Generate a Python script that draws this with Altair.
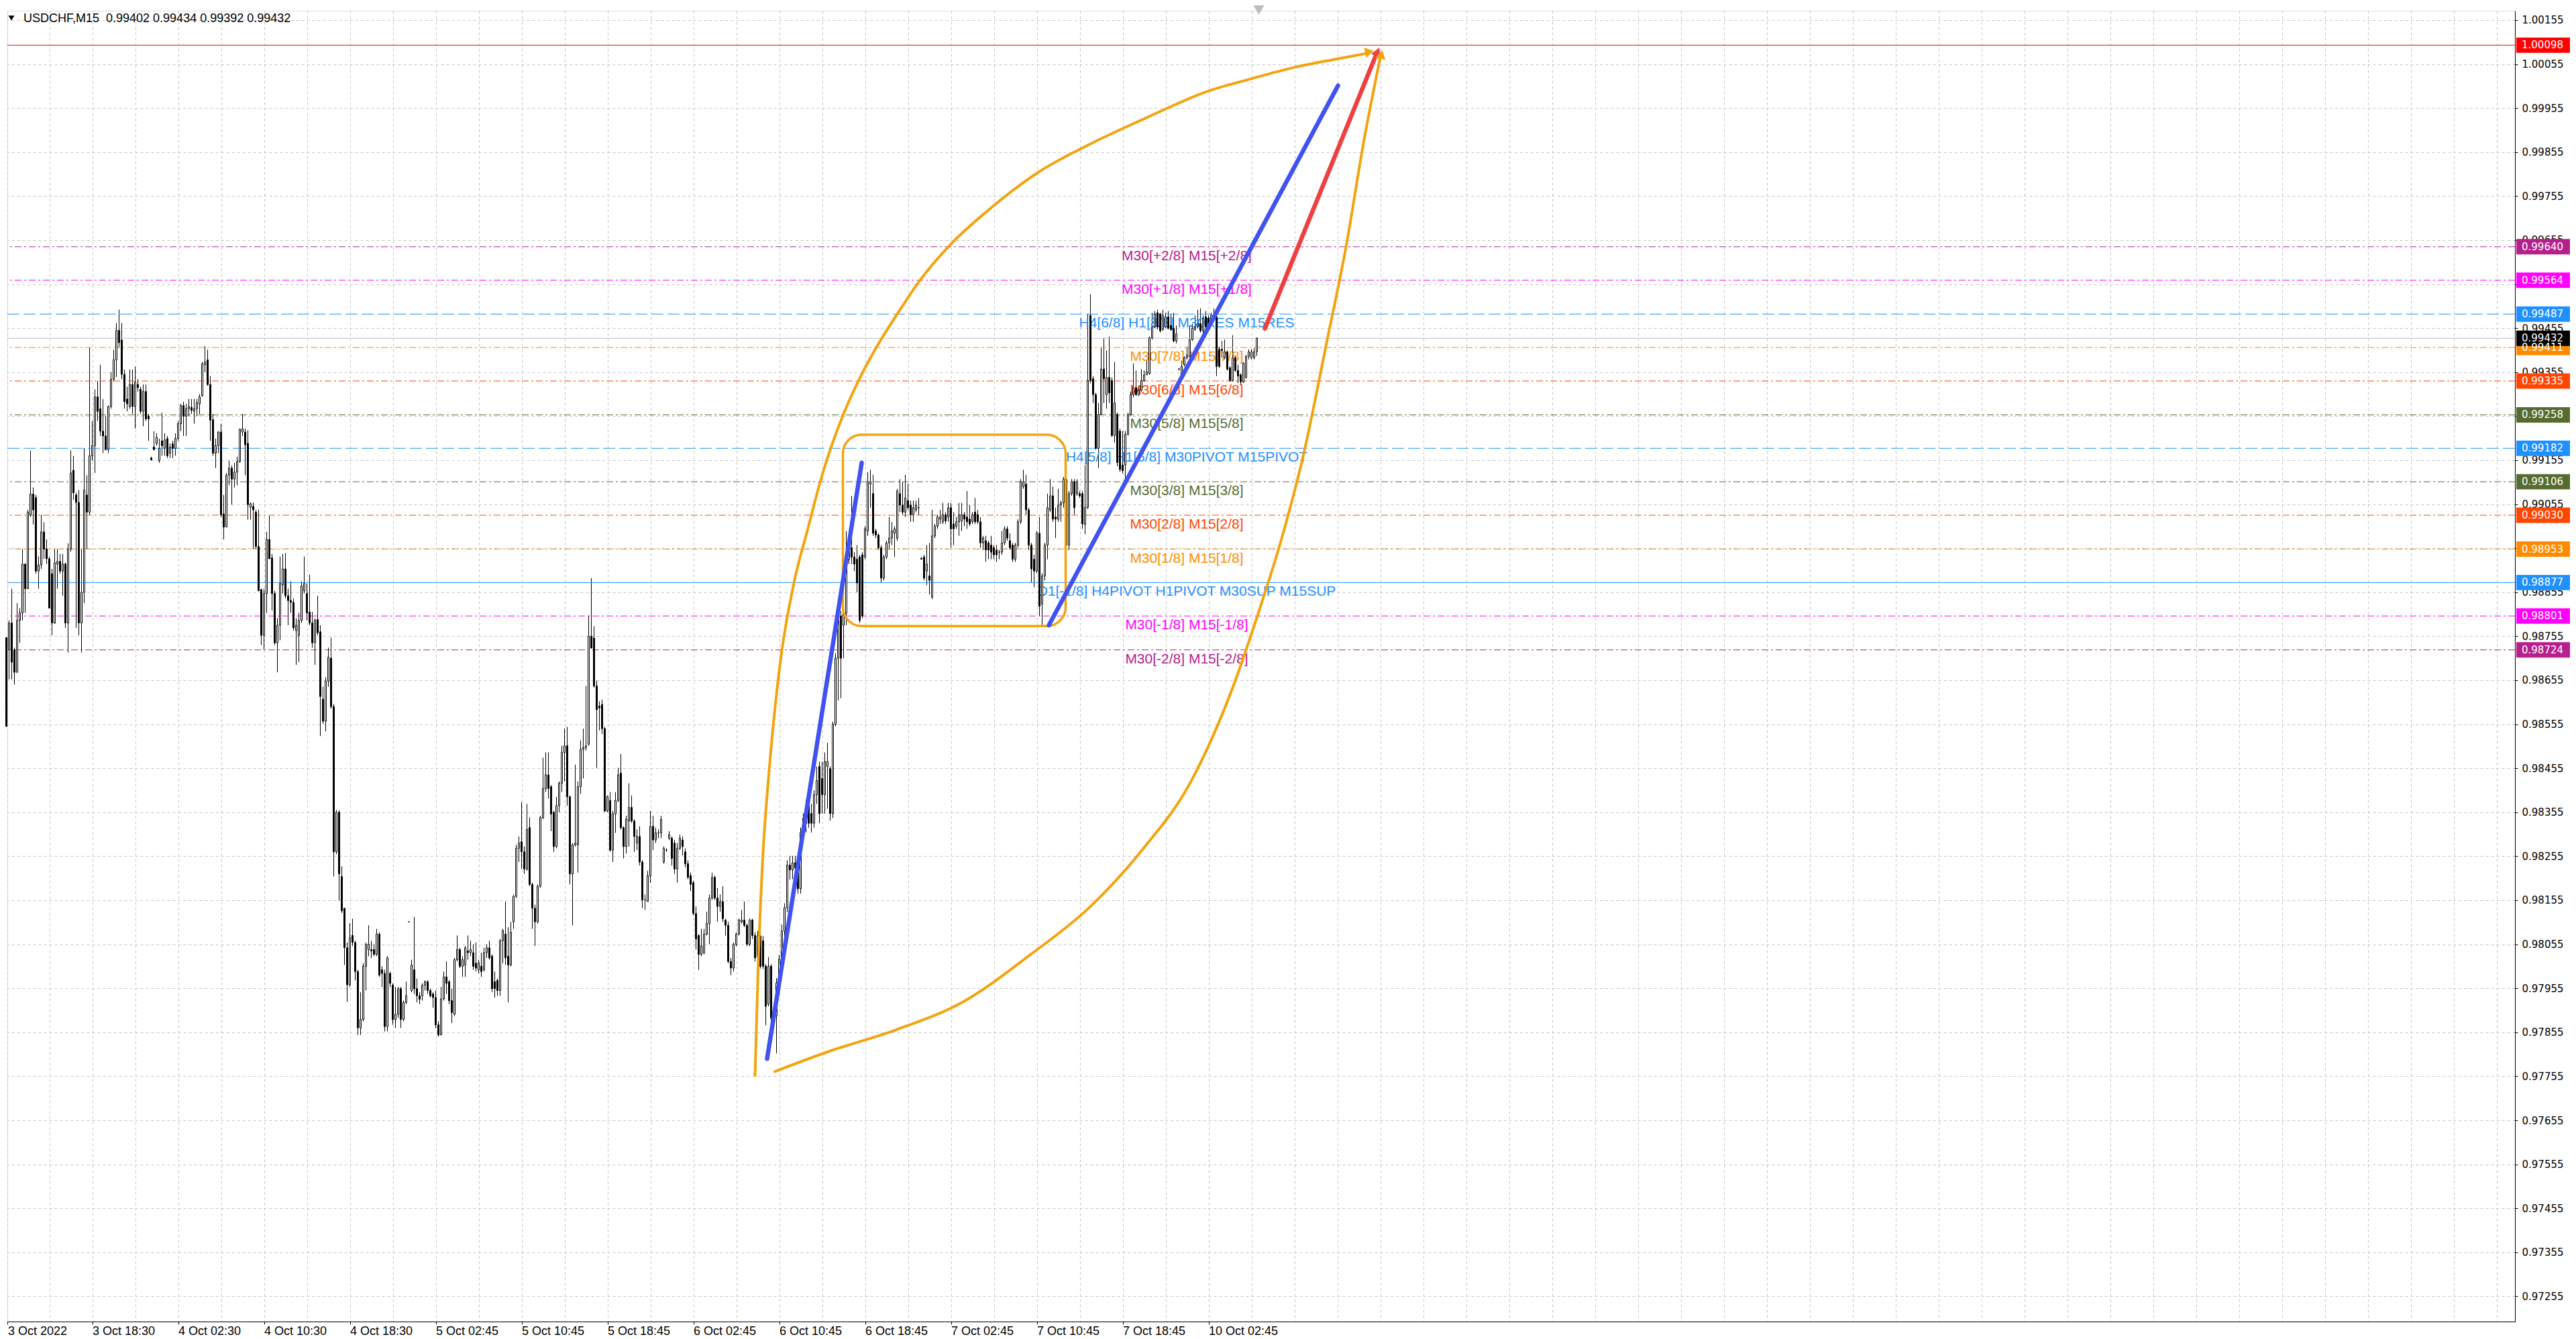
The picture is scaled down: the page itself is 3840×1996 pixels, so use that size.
import json
import altair as alt
import pandas as pd

# ---------------- candle data (prices in points, 1 point = 0.00001) ----------------
opens_pts = [
98752,98724,98785,98724,98673,98791,98808,98919,98863,99031,
99078,99070,98903,98917,98992,98953,98931,98897,98785,98919,
98925,98903,98919,98785,98953,99132,99076,99059,98785,98855,
99076,99037,99165,99188,99299,99272,99221,99210,99179,99277,
99339,99383,99450,99428,99350,99294,99277,99327,99277,99327,
99316,99266,99311,99255,99160,99185,99193,99154,99199,99182,
99204,99171,99192,99182,99204,99238,99279,99255,99272,99275,
99266,99272,99283,99302,99372,99383,99327,99247,99171,99188,
99219,99033,99003,99121,99137,99112,99128,99152,99219,99219,
99193,99048,99050,99037,98959,98861,98757,98852,98975,98933,
98852,98740,98780,98872,98908,98847,98836,98832,98768,98757,
98791,98858,98852,98810,98785,98740,98793,98765,98612,98562,
98653,98705,98595,98265,98355,98209,98137,98047,97963,98075,
98059,97993,97865,97884,98005,98043,98043,98043,98032,98078,
97997,97989,97868,97989,97962,97884,97896,97954,97884,97923,
98106,97950,97997,97954,97938,97938,97962,97970,97950,97942,
97934,97872,97849,97931,97981,97970,97927,97896,98020,98043,
98005,98008,98040,98036,98036,98012,97997,98005,97997,98036,
98047,98028,97970,97973,97950,98063,98078,98028,98008,98106,
98164,98273,98288,98265,98226,98320,98191,98137,98106,98187,
98343,98409,98440,98413,98355,98277,98370,98421,98491,98506,
98390,98215,98281,98281,98413,98498,98502,98510,98755,98751,
98642,98596,98600,98545,98358,98382,98269,98351,98382,98444,
98320,98277,98335,98366,98335,98285,98300,98242,98156,98152,
98211,98323,98292,98308,98308,98242,98269,98296,98296,98285,
98226,98273,98292,98265,98238,98211,98195,98125,98075,98032,
98036,98078,98102,98160,98207,98160,98141,98152,98110,98098,
98016,98001,98055,98078,98106,98110,98098,98055,98110,98075,
98026,98074,98063,98005,97919,98005,97887,97893,97967,98021,
98085,98138,98235,98224,98240,98228,98181,98309,98330,98370,
98352,98330,98395,98459,98432,98395,98459,98454,98352,98555,
98705,98801,98780,98807,98930,98956,98935,98930,98935,98940,
98935,98994,99101,99079,98994,98985,98956,98887,98935,98967,
98978,98989,98978,99079,99053,99037,99063,99053,99031,99042,
99047,98932,98935,98903,98892,98844,98983,99005,99021,99015,
99031,99026,99047,99010,99005,99015,99017,99031,99026,99021,
99015,99037,99031,99015,98967,98972,98967,98962,98956,98951,
98946,98946,98967,98999,98972,98962,98930,98962,99015,99095,
99101,99042,98962,98930,98903,98989,98828,98892,98962,99042,
99074,99026,99021,99053,99058,99112,98962,99079,99106,99079,
99079,99079,99009,99048,99484,99340,99304,99182,99259,99362,
99304,99343,99336,99211,99259,99221,99144,99144,99214,99259,
99304,99320,99304,99314,99336,99349,99352,99433,99458,99490,
99487,99452,99458,99481,99461,99455,99426,99362,99349,99372,
99388,99391,99429,99452,99458,99465,99449,99481,99478,99471,
99484,99481,99407,99407,99388,99401,99365,99336,99388,99359,
99349,99333,99343,99391,99388,99388,99402]

highs_pts = [
98752,98791,98863,98729,98830,98819,98953,98919,99042,99177,
99093,99076,98936,99031,99014,98975,98936,98908,98953,98953,
98942,98942,98922,98966,99177,99165,99081,99087,98953,99182,
99121,99411,99244,99316,99335,99372,99294,99255,99279,99355,
99406,99467,99497,99467,99361,99322,99361,99361,99367,99339,
99322,99327,99327,99260,99163,99221,99216,99204,99263,99216,
99210,99193,99199,99216,99244,99283,99288,99283,99294,99294,
99294,99294,99305,99378,99414,99406,99346,99260,99204,99221,
99238,99076,99126,99154,99143,99149,99163,99227,99260,99227,
99223,99059,99059,99042,99042,98863,98863,98992,99029,98942,
98858,98796,98936,98942,98944,98863,98880,98841,98796,98808,
98880,98936,98875,98895,98810,98796,98847,98780,98640,98662,
98729,98752,98601,98360,98360,98232,98137,98059,98103,98113,
98063,97997,97946,98012,98059,98098,98063,98055,98090,98082,
98005,97997,98028,97993,97966,97958,97958,97958,97927,97970,
98107,98020,98117,97977,97946,97966,97973,97973,97954,97946,
97950,97880,97958,97993,98016,97973,97954,98024,98075,98047,
98028,98051,98075,98063,98055,98059,98020,98036,98047,98055,
98063,98032,97993,97977,98067,98090,98152,98094,98106,98168,
98281,98300,98378,98277,98374,98343,98195,98145,98191,98347,
98479,98491,98491,98417,98358,98390,98425,98506,98545,98549,
98393,98285,98463,98425,98518,98545,98642,98802,98887,98778,
98654,98607,98611,98549,98393,98401,98358,98401,98456,98487,
98323,98347,98421,98393,98339,98316,98323,98246,98168,98222,
98358,98347,98320,98316,98347,98277,98273,98312,98300,98292,
98285,98304,98300,98273,98246,98218,98199,98141,98078,98090,
98090,98129,98168,98218,98211,98183,98168,98187,98113,98106,
98024,98059,98082,98113,98133,98152,98102,98113,98113,98082,
98085,98112,98074,98010,98026,98010,97914,97978,98031,98100,
98148,98246,98256,98256,98256,98240,98320,98352,98384,98384,
98374,98405,98459,98470,98470,98491,98513,98459,98561,98716,
98801,98812,98833,98994,98967,99074,98946,98962,98940,98946,
99005,99128,99133,99122,98999,98989,98962,98940,98972,99026,
99015,99005,99090,99112,99106,99122,99101,99063,99063,99063,
99069,98935,98940,98962,98967,99042,99010,99031,99042,99058,
99037,99058,99058,99037,99026,99058,99058,99037,99085,99053,
99037,99069,99042,99026,98983,98983,98972,98983,98962,98962,
98951,98994,99005,99005,98989,98967,98967,99021,99112,99133,
99122,99047,98967,98940,98994,99026,98898,98967,99079,99112,
99095,99047,99090,99063,99117,99117,99085,99112,99112,99112,
99085,99085,99144,99487,99532,99346,99308,99285,99410,99433,
99404,99436,99343,99378,99263,99227,99221,99221,99263,99311,
99375,99359,99324,99362,99359,99381,99436,99490,99494,99497,
99490,99497,99490,99494,99487,99490,99461,99365,99381,99391,
99413,99461,99465,99484,99497,99500,99484,99494,99484,99490,
99500,99484,99413,99426,99429,99404,99368,99439,99391,99372,
99352,99378,99394,99407,99407,99410,99434]

lows_pts = [
98550,98657,98657,98645,98673,98740,98791,98808,98863,99026,
99009,98897,98863,98908,98931,98919,98819,98757,98783,98863,
98897,98847,98774,98718,98947,99065,98774,98757,98718,98830,
98953,99031,99154,99126,99244,99210,99171,99177,99171,99272,
99333,99344,99411,99339,99272,99266,99272,99260,99227,99311,
99260,99232,99244,99199,99154,99177,99188,99149,99165,99165,
99160,99160,99160,99165,99199,99221,99210,99210,99255,99260,
99238,99255,99260,99299,99355,99324,99199,99165,99137,99171,
99026,98975,99003,99098,99054,99093,99098,99149,99210,99121,
99020,99020,98953,98953,98858,98735,98724,98808,98931,98813,
98735,98673,98746,98852,98841,98780,98808,98768,98690,98696,
98785,98852,98791,98780,98729,98690,98757,98528,98556,98539,
98640,98590,98209,98260,98154,98126,98008,97924,97958,98051,
97973,97849,97849,97880,97950,98028,98024,98028,98028,97981,
97958,97857,97857,97958,97872,97865,97888,97865,97880,97919,
98105,97946,97942,97923,97919,97927,97950,97942,97934,97911,
97865,97845,97849,97927,97942,97919,97876,97892,98016,98001,
97981,97981,98020,98028,97997,97993,97989,97981,97993,98024,
98020,97946,97934,97938,97938,98012,98008,97923,98005,98090,
98160,98242,98226,98215,98222,98187,98090,98051,98102,98183,
98339,98401,98386,98312,98265,98273,98355,98401,98425,98370,
98191,98098,98277,98218,98397,98432,98495,98506,98728,98638,
98456,98541,98533,98355,98355,98265,98242,98308,98378,98316,
98250,98261,98277,98331,98265,98269,98234,98137,98133,98152,
98195,98269,98285,98296,98296,98238,98265,98292,98234,98215,
98195,98269,98257,98230,98203,98176,98121,98043,97997,98028,
98032,98075,98055,98156,98156,98106,98129,98106,98075,98012,
97985,97993,98051,98075,98102,98094,98051,98051,98067,98016,
98015,98000,97999,97871,97914,97871,97866,97807,97940,98010,
98064,98128,98202,98203,98202,98170,98170,98299,98309,98320,
98309,98320,98374,98330,98352,98352,98363,98336,98342,98550,
98609,98614,98705,98780,98919,98919,98903,98855,98785,98796,
98930,98983,99047,98983,98978,98951,98876,98882,98930,98951,
98962,98935,98972,99037,99031,99026,99042,99015,99015,99037,
99031,98930,98882,98871,98850,98839,98978,98999,99010,99010,
99010,99015,98956,98962,98999,98983,98994,99005,98999,99005,
99010,99010,99010,98956,98951,98924,98930,98930,98930,98924,
98930,98940,98962,98972,98951,98924,98924,98956,99010,99090,
99031,98951,98876,98866,98898,98801,98780,98882,98930,99037,
99015,98978,99015,99015,99047,98956,98951,99074,99031,99074,
99069,98999,98987,99044,99330,99285,99179,99137,99259,99285,
99272,99285,99208,99195,99141,99128,99125,99105,99211,99256,
99298,99301,99301,99311,99333,99349,99349,99429,99455,99452,
99445,99449,99455,99452,99449,99423,99420,99359,99346,99368,
99384,99388,99426,99449,99455,99445,99442,99455,99458,99468,
99471,99346,99365,99388,99384,99359,99333,99333,99356,99330,
99327,99330,99340,99384,99384,99384,99392]

closes_pts = [
98550,98785,98696,98673,98791,98808,98919,98863,99037,99078,
99042,98903,98917,98992,98953,98931,98819,98785,98922,98925,
98903,98919,98785,98953,99126,99081,99059,98785,98855,99087,
99037,99165,99188,99299,99266,99221,99210,99179,99277,99339,
99383,99450,99422,99350,99288,99283,99327,99277,99333,99320,
99266,99311,99249,99249,99156,99179,99207,99182,99188,99201,
99165,99185,99182,99204,99238,99279,99255,99272,99277,99268,
99272,99286,99299,99374,99378,99327,99246,99171,99188,99219,
99031,99003,99121,99137,99112,99128,99152,99225,99226,99190,
99054,99056,99042,98959,98858,98757,98852,98975,98931,98852,
98740,98780,98875,98908,98847,98836,98832,98774,98780,98791,
98869,98875,98808,98785,98740,98791,98763,98618,98562,98653,
98707,98595,98265,98355,98215,98131,98047,97963,98070,98059,
97993,97865,97884,98005,98055,98055,98040,98032,98078,97985,
97989,97868,98024,97966,97884,97896,97954,97884,97923,97938,
98106,98008,97954,97938,97930,97962,97970,97950,97938,97934,
97872,97849,97931,97981,97966,97927,97900,98020,98043,98005,
98020,98047,98036,98043,98005,98001,98012,97993,98036,98047,
98024,97954,97954,97950,98063,98086,98024,98008,98082,98164,
98273,98285,98265,98226,98316,98191,98137,98106,98187,98343,
98409,98440,98409,98351,98277,98370,98421,98491,98506,98390,
98215,98281,98285,98413,98498,98502,98506,98755,98728,98642,
98588,98592,98545,98358,98390,98269,98351,98382,98440,98320,
98277,98339,98366,98335,98300,98300,98242,98156,98156,98211,
98323,98292,98308,98308,98339,98273,98269,98304,98250,98226,
98273,98296,98277,98238,98207,98191,98125,98067,98032,98051,
98078,98102,98160,98207,98160,98141,98152,98113,98098,98016,
98001,98055,98078,98110,98110,98098,98055,98110,98075,98024,
98074,98005,98005,97914,98005,97887,97908,97967,98021,98085,
98138,98235,98224,98240,98228,98181,98309,98342,98370,98330,
98330,98395,98427,98352,98395,98470,98470,98352,98555,98705,
98791,98705,98807,98930,98951,98935,98919,98876,98791,98801,
98999,99106,99106,98989,98985,98956,98887,98935,98967,98978,
98994,98999,99085,99053,99037,99069,99047,99031,99047,99053,
99047,98930,98887,98919,98882,98983,99005,99026,99026,99031,
99017,99047,98999,98999,99015,99031,99031,99021,99015,99010,
99031,99015,99015,98967,98978,98951,98951,98946,98940,98940,
98946,98967,98999,98978,98956,98930,98962,99015,99106,99106,
99042,98962,98908,98903,98989,98823,98892,98962,99047,99074,
99021,99021,99053,99058,99112,98962,99079,99106,99047,99106,
99074,99010,99048,99336,99336,99304,99182,99259,99362,99340,
99343,99308,99211,99285,99150,99134,99131,99214,99259,99304,
99320,99304,99314,99336,99349,99356,99433,99458,99487,99458,
99449,99484,99481,99455,99452,99426,99442,99362,99368,99388,
99394,99429,99455,99458,99465,99449,99478,99458,99465,99484,
99478,99368,99368,99404,99401,99362,99336,99388,99359,99346,
99333,99375,99391,99401,99401,99401,99432]

# ---------------- axes ----------------
time_labels = ["3 Oct 2022", "3 Oct 18:30", "4 Oct 02:30", "4 Oct 10:30", "4 Oct 18:30",
               "5 Oct 02:45", "5 Oct 10:45", "5 Oct 18:45", "6 Oct 02:45", "6 Oct 10:45",
               "6 Oct 18:45", "7 Oct 02:45", "7 Oct 10:45", "7 Oct 18:45", "10 Oct 02:45"]
time_label_bars = [0, 32, 64, 96, 128, 160, 192, 224, 256, 288, 320, 352, 384, 416, 448]
grid_bars = [0.5] + list(range(16, 929, 16))
price_ticks = [0.97255, 0.97355, 0.97455, 0.97555, 0.97655, 0.97755, 0.97855, 0.97955,
               0.98055, 0.98155, 0.98255, 0.98355, 0.98455, 0.98555, 0.98655, 0.98755,
               0.98855, 0.98955, 0.99055, 0.99155, 0.99255, 0.99355, 0.99455, 0.99555,
               0.99655, 0.99755, 0.99855, 0.99955, 1.00055, 1.00155]

# ---------------- Murrey levels ----------------
level_prices = [0.99640, 0.99564, 0.99487, 0.99411, 0.99335, 0.99258, 0.99182,
                0.99106, 0.99030, 0.98953, 0.98877, 0.98801, 0.98724]
level_texts = ["M30[+2/8] M15[+2/8]", "M30[+1/8] M15[+1/8]", "H4[6/8] H1[8/8] M30RES M15RES",
               "M30[7/8] M15[7/8]", "M30[6/8] M15[6/8]", "M30[5/8] M15[5/8]",
               "H4[5/8] H1[6/8] M30PIVOT M15PIVOT", "M30[3/8] M15[3/8]", "M30[2/8] M15[2/8]",
               "M30[1/8] M15[1/8]", "D1[-1/8] H4PIVOT H1PIVOT M30SUP M15SUP",
               "M30[-1/8] M15[-1/8]", "M30[-2/8] M15[-2/8]"]
level_colors = ["#B5208C", "#FF00FF", "#1E90FF", "#FF8C00", "#FF4500", "#556B2F", "#1E90FF",
                "#556B2F", "#FF4500", "#FF8C00", "#1E90FF", "#FF00FF", "#B5208C"]
level_styles = ["dashdot", "dashdot", "dash", "dashdot", "dashdot", "dashdot", "dash",
                "dashdot", "dashdot", "dashdot", "solid", "dashdot", "dashdot"]

target_price = 1.00098
last_price = 0.99432
header_text = "USDCHF,M15\u00a0\u00a00.99402 0.99434 0.99392 0.99432"

# ---------------- drawings (bar index, price) ----------------
blue_seg = [1, 1, 2, 2]
blue_bars = [283.5, 318.75, 388.5, 496.25]
blue_prices = [0.97795, 0.99149, 0.98780, 1.00006]

red_bars = [469.0, 510.25]
red_prices = [0.99454, 1.00073]

upper_arc_bars = [279.0, 280.25, 281.75, 284.25, 287.75, 293.5, 298.5, 304.25, 312.0, 319.5,
                  327.25, 332.0, 340.5, 352.0, 365.5, 384.5, 403.75, 423.0, 448.5, 463.5,
                  480.25, 496.0, 507.5]
upper_arc_prices = [0.97754, 0.98021, 0.98236, 0.98449, 0.98663, 0.98876, 0.98995, 0.99126,
                    0.99260, 0.99359, 0.99442, 0.99487, 0.99564, 0.99646, 0.99721, 0.99809,
                    0.99873, 0.99928, 0.99995, 1.00021, 1.00048, 1.00067, 1.00080]
lower_arc_bars = [286.0, 306.75, 331.75, 356.75, 381.75, 403.5, 423.5, 441.0, 456.75, 466.75,
                  475.25, 483.5, 491.75, 499.25, 506.0, 512.0]
lower_arc_prices = [0.97765, 0.97812, 0.97861, 0.97925, 0.98032, 0.98138, 0.98271, 0.98420,
                    0.98634, 0.98811, 0.98977, 0.99170, 0.99414, 0.99640, 0.99884, 1.00070]

arrow_bars = [511.0, 508.0, 512.4]
arrow_prices = [1.00083, 1.00083, 1.00077]
arrow_angles = [22, 79, 11]
arrow_colors = ["#EE4040", "#F2A40E", "#F2A40E"]

box_bars = [311.75, 394.75]
box_prices = [0.99213, 0.98778]
shift_marker_bar = 466.75

# ---------------- frames ----------------
BLUE = "#4052F0"
ORANGE = "#F2A40E"
X_DOM = [0.375, 934.875]
Y_DOM = [0.971977, 1.001763]
W, H = 3738, 1954

candles = pd.DataFrame({
    "bar": list(range(len(opens_pts))),
    "open": [v / 1e5 for v in opens_pts],
    "high": [v / 1e5 for v in highs_pts],
    "low": [v / 1e5 for v in lows_pts],
    "close": [v / 1e5 for v in closes_pts],
})
candles["high"] = candles[["high", "open", "close"]].max(axis=1)
candles["low"] = candles[["low", "open", "close"]].min(axis=1)

lv = pd.DataFrame({"price": level_prices, "label": level_texts,
                   "color": level_colors, "style": level_styles})
special = pd.DataFrame({"price": [target_price, last_price], "color": ["#CC1B1B", "#BDBDBD"]})
tags = pd.DataFrame({"price": level_prices + [target_price, last_price],
                     "color": level_colors + ["#FF0000", "#000000"]})
blue_df = pd.DataFrame({"seg": blue_seg, "bar": blue_bars, "price": blue_prices})
red_df = pd.DataFrame({"bar": red_bars, "price": red_prices})
arcs_df = pd.DataFrame({
    "arc": ["u"] * len(upper_arc_bars) + ["l"] * len(lower_arc_bars),
    "bar": upper_arc_bars + lower_arc_bars,
    "price": upper_arc_prices + lower_arc_prices,
})
arrows_df = pd.DataFrame({"bar": arrow_bars, "price": arrow_prices,
                          "angle": arrow_angles, "color": arrow_colors})
box_df = pd.DataFrame({"x1": [box_bars[0]], "x2": [box_bars[1]],
                       "p1": [box_prices[0]], "p2": [box_prices[1]]})
one = pd.DataFrame({"t": [header_text], "bar": [shift_marker_bar]})

xs = alt.Scale(domain=X_DOM, nice=False, zero=False)
ys = alt.Scale(domain=Y_DOM, nice=False, zero=False)

bars_json = json.dumps(time_label_bars)
label_expr = (f"indexof({bars_json}, floor(datum.value)) >= 0 ? "
              f"{json.dumps(time_labels)}[indexof({bars_json}, floor(datum.value))] : ''")
tick_test = f"indexof({bars_json}, floor(datum.value)) >= 0"

x_axis = alt.Axis(values=grid_bars, labelExpr=label_expr, grid=True, gridDash=[4, 4],
                  gridColor="#C4C4C4", gridWidth=1, title=None, labelAlign="left",
                  labelBaseline="top", labelPadding=1, tickSize=4, labelFont="Liberation Sans",
                  labelFontSize=18, labelColor="black", labelOverlap=False, labelFlush=False,
                  domainColor="black", tickColor="black", orient="bottom",
                  tickOpacity={"condition": {"test": tick_test, "value": 1}, "value": 0})
y_axis = alt.Axis(orient="right", values=price_ticks, format=".5f", grid=True, gridDash=[4, 4],
                  gridColor="#C4C4C4", gridWidth=1, title=None, tickSize=4, labelPadding=6,
                  labelFont="DejaVu Sans", labelFontSize=15, labelColor="black",
                  labelFlush=False, labelOverlap=False, domainColor="black", tickColor="black")


def X(field):
    return alt.X(field, type="quantitative", scale=xs, axis=x_axis)


def Y(field):
    return alt.Y(field, type="quantitative", scale=ys, axis=y_axis)


def level_rules(style, dash):
    mk = alt.Chart(lv).transform_filter(alt.datum.style == style)
    if dash:
        mk = mk.mark_rule(strokeWidth=1, strokeDash=dash)
    else:
        mk = mk.mark_rule(strokeWidth=1)
    return mk.encode(y=Y("price"), color=alt.Color("color:N", scale=None))


wicks = alt.Chart(candles).mark_rule(color="black", strokeWidth=1).encode(
    x=X("bar"), y=Y("low"), y2="high:Q")

rules_dd = level_rules("dashdot", [10, 4, 3, 4])
rules_d = level_rules("dash", [18, 6])
rules_s = level_rules("solid", None)

special_rules = alt.Chart(special).mark_rule(strokeWidth=1).encode(
    y=Y("price"), color=alt.Color("color:N", scale=None))

level_text = alt.Chart(lv).mark_text(font="Liberation Sans", fontSize=21, baseline="top",
                                     align="center", dy=3).encode(
    x=alt.value(1758), y=Y("price"), text="label:N",
    color=alt.Color("color:N", scale=None))

bodies = alt.Chart(candles).transform_calculate(
    bl="datum.bar - 0.25", br="datum.bar + 0.25"
).mark_rect(stroke="black", strokeWidth=1).encode(
    x=X("bl"), x2="br:Q", y=Y("open"), y2="close:Q",
    fill=alt.condition("datum.close >= datum.open", alt.value("white"), alt.value("black")))

rrect = alt.Chart(box_df).mark_rect(filled=False, stroke=ORANGE, strokeWidth=3.5,
                                    cornerRadius=28).encode(
    x=X("x1"), x2="x2:Q", y=Y("p1"), y2="p2:Q")

arcs = alt.Chart(arcs_df).mark_line(interpolate="monotone", strokeWidth=4, color=ORANGE).encode(
    x=X("bar"), y=Y("price"), detail="arc:N")

blue = alt.Chart(blue_df).mark_line(strokeWidth=6.5, strokeCap="round", color=BLUE).encode(
    x=X("bar"), y=Y("price"), detail="seg:N")

red = alt.Chart(red_df).mark_line(strokeWidth=6.5, strokeCap="round", color="#EE4040").encode(
    x=X("bar"), y=Y("price"))

arrows = alt.Chart(arrows_df).mark_point(shape="triangle-up", filled=True, size=230,
                                         opacity=1).encode(
    x=X("bar"), y=Y("price"),
    angle=alt.Angle("angle:Q", scale=None), color=alt.Color("color:N", scale=None))

tag_boxes = alt.Chart(tags).transform_calculate(
    pt="datum.price + 0.000175", pb="datum.price - 0.000175"
).mark_rect().encode(
    x=alt.value(3740), x2=alt.value(3820),
    y=Y("pt"), y2="pb:Q",
    color=alt.Color("color:N", scale=None))

tag_text = alt.Chart(tags).mark_text(align="left", baseline="middle", font="DejaVu Sans",
                                     fontSize=15, color="white").encode(
    x=alt.value(3748), y=Y("price"),
    text=alt.Text("price:Q", format=".5f"))

header = alt.Chart(one).mark_text(align="left", baseline="middle", font="Liberation Sans",
                                  fontSize=18, color="black").encode(
    x=alt.value(24), y=alt.value(12), text="t:N")
header_tri = alt.Chart(one).mark_point(shape="triangle-down", filled=True, color="black",
                                       size=80, opacity=1).encode(
    x=alt.value(6), y=alt.value(11))
shift_tri = alt.Chart(one).mark_point(shape="triangle-down", filled=True, color="#BDBDBD",
                                      size=260, opacity=1).encode(
    x=X("bar"), y=alt.value(-1))

chart = alt.layer(
    wicks, rules_dd, rules_d, rules_s, special_rules, level_text,
    bodies,
    rrect, arcs, blue, red, arrows,
    tag_boxes, tag_text, header, header_tri, shift_tri,
).properties(
    width=W, height=H, padding=0
).configure_view(
    stroke="black", strokeWidth=1
).configure(background="white")

chart.save("out.html", embed_options={"renderer": "svg", "actions": False})
